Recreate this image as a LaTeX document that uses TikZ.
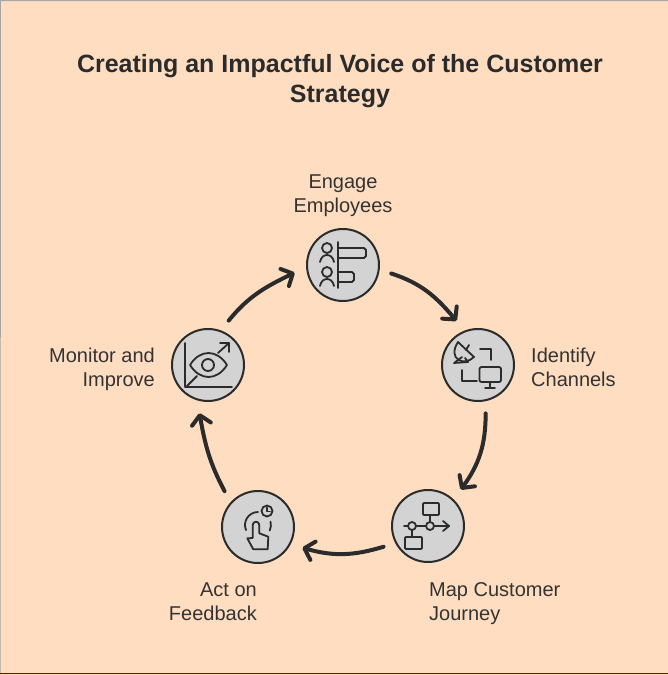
\documentclass[tikz,border=0pt]{standalone}
\usepackage{fontspec}
\setmainfont{Liberation Sans}
\usetikzlibrary{arrows.meta}
\definecolor{bgc}{HTML}{FFDDC1}
\definecolor{ink}{HTML}{2B2B2B}
\definecolor{txt}{HTML}{333333}
\definecolor{disc}{HTML}{D3D3D3}
\tikzset{
  x=1pt,y=1pt,
  stage/.style={circle,draw=ink,fill=disc,line width=2pt,minimum size=72pt,inner sep=0pt,outer sep=13pt},
  flow/.style={draw=ink,line width=4pt,line cap=round,-{Straight Barb[length=9pt,width=19pt,line cap=round,line join=round]}},
  lab/.style={text=txt,font=\fontsize{20}{24}\selectfont,inner sep=0pt},
  ttl/.style={text=ink,font=\bfseries\fontsize{25}{30}\selectfont,align=center,inner sep=0pt},
  icon/.style={yscale=-1,draw=ink,line width=1.8pt,line cap=round,line join=round},
}
\begin{document}
\begin{tikzpicture}
\useasboundingbox (0,0) rectangle (668,-675);
\fill[bgc] (0,0) rectangle (668,-675);
\draw[gray!70,line width=1pt] (0,-673) -- (0.5,-0.5) -- (668,-0.5);
\draw[ink,line width=1.6pt] (0,-673.5) -- (668,-673.5);

\node[ttl] (title) at (340,-81) {Creating an Impactful Voice of the Customer\\Strategy};

\node[stage] (eng) at (343,-265) {};
\node[stage] (ide) at (478,-365) {};
\node[stage] (map) at (428,-526) {};
\node[stage] (act) at (258,-527) {};
\node[stage] (mon) at (208,-365) {};

\node[lab,align=center] (leng) at (343,-196) {Engage\\Employees};
\node[lab,align=left,anchor=west] (lide) at (531,-367) {Identify\\Channels};
\node[lab,align=left,anchor=west] (lmap) at (429,-604) {Map Customer\\Journey};
\node[lab,align=right,anchor=east] (lact) at (257,-602) {Act on\\Feedback};
\node[lab,align=right,anchor=east] (lmon) at (155,-369) {Monitor and\\Improve};

\draw[flow] (eng.-10) to[out=-18,in=130] (ide.116);
\draw[flow] (ide.-81) to[out=-90,in=54] (map.48);
\draw[flow] (map.205) to[out=197,in=-16] (act.-25);
\draw[flow] (act.133) to[out=118,in=-80] (mon.260);
\draw[flow] (mon.65) to[out=51,in=206] (eng.189);

% Engage icon
\begin{scope}[shift={(eng)},icon]
  \draw (-5,-23) -- (-5,23);
  \draw (-5,-17) -- (21,-17) to[out=0,in=90] (23,-15) -- (23,-9) to[out=-90,in=0] (21,-7) -- (-5,-7);
  \draw (-5,7) -- (9,7) to[out=0,in=90] (11,9) -- (11,15) to[out=-90,in=0] (9,17) -- (-5,17);
  \draw (-16,-17) circle[radius=5];
  \draw (-23,-3) .. controls (-22,-8) and (-19,-10) .. (-16,-10) .. controls (-13,-10) and (-10,-8) .. (-9,-3);
  \draw (-16,7) circle[radius=5];
  \draw (-23,21) .. controls (-22,16) and (-19,14) .. (-16,14) .. controls (-13,14) and (-10,16) .. (-9,21);
\end{scope}

% Identify icon
\begin{scope}[shift={(ide)},icon]
  \draw (-20,-23) .. controls (-31,-6) and (-14,2) .. (-4,-8) -- cycle;
  \draw (-12,-15) -- (-9,-20);
  \draw (-16,-8) -- (-24,-2) -- (-10,-3) -- (-13,-7);
  \draw (2,-16) -- (13,-16) -- (13,-5);
  \draw (-16,5) -- (-16,16) -- (-1,16);
  \draw[rounded corners=2pt] (1.5,2) rectangle (23,17);
  \draw (12,17) -- (12,23);
  \draw (7,23) -- (17,23);
\end{scope}

% Map icon
\begin{scope}[shift={(map)},icon]
  \draw[rounded corners=1pt] (-5,-23) rectangle (11,-11);
  \draw[rounded corners=1pt] (-23,11) rectangle (-6,23);
  \draw (-16,0) circle[radius=4];
  \draw (2,0) circle[radius=4];
  \draw (-24,0) -- (-20,0);
  \draw (-12,0) -- (-2,0);
  \draw (6,0) -- (21,0);
  \draw (15,-5) -- (21,0) -- (15,5);
  \draw (2,-11) -- (2,-4);
  \draw (-16,4) -- (-16,11);
\end{scope}

% Act icon
\begin{scope}[shift={(act)},icon]
  \draw (9,-16) circle[radius=5.5];
  \draw (9,-19.5) -- (9,-15.5) -- (12,-15.5);
  \draw (0,-15) arc[start angle=-90,end angle=-203,radius=13];
  \draw (12.5,-5.4) arc[start angle=-15,end angle=25,radius=13];
  \draw (-5.3,11) -- (-5.3,-2) arc[start angle=180,end angle=360,radius=3.3] -- (1.3,6.3) -- (10.3,9.7) -- (9.7,22.3) -- (-4.7,22.3) -- (-10.7,11.3) -- cycle;
\end{scope}

% Monitor icon
\begin{scope}[shift={(mon)},icon]
  \draw (-23,-22) -- (-23,22) -- (24,22);
  \draw (-21,21) -- (-11,11);
  \draw (10,-12) -- (21,-22);
  \draw (12,-22) -- (21,-22) -- (21,-13);
  \draw (-18,0) .. controls (-8,-16) and (9,-16) .. (19,0) .. controls (9,16) and (-8,16) .. (-18,0) -- cycle;
  \draw (0,0) circle[radius=6];
\end{scope}
\end{tikzpicture}
\end{document}
